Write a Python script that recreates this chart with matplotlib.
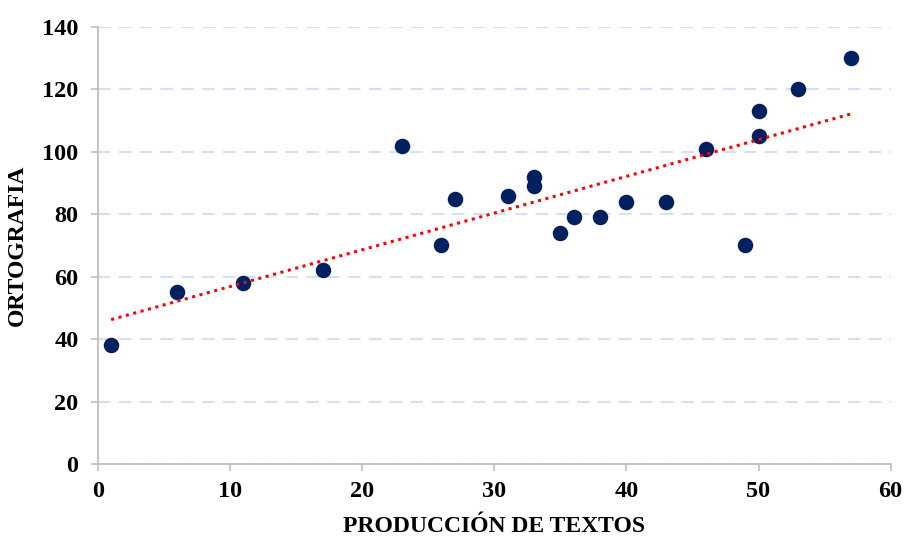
import numpy as np
import matplotlib
matplotlib.use("Agg")
import matplotlib.pyplot as plt

produccion = [1, 6, 11, 17, 23, 26, 27, 31, 33, 33, 35, 36, 38, 40, 43, 46, 49, 50, 50, 53, 57]
ortografia = [38, 55, 58, 62, 102, 70, 85, 86, 92, 89, 74, 79, 79, 84, 84, 101, 70, 105, 113, 120, 130]

x_ticks = [0, 10, 20, 30, 40, 50, 60]
y_ticks = [0, 20, 40, 60, 80, 100, 120, 140]

plt.rcParams['font.family'] = ['Liberation Serif', 'DejaVu Serif']
plt.rcParams['font.weight'] = 'bold'

fig = plt.figure(figsize=(9.07, 5.36), dpi=100)
ax = fig.add_axes([0.108, 0.134, 0.874, 0.816])

ax.scatter(produccion, ortografia, s=125, color='#002060', zorder=3, linewidths=0)

# linea de tendencia lineal
m, b = np.polyfit(produccion, ortografia, 1)
xs = np.array([min(produccion), max(produccion)])
ax.plot(xs, m * xs + b, color='#ff0000', linestyle=(0, (1, 1.5)), linewidth=2.2, zorder=4)

ax.set_xlim(0, 60)
ax.set_ylim(0, 140)
ax.set_xticks(x_ticks)
ax.set_yticks(y_ticks)
ax.tick_params(axis='both', labelsize=17.5, color='#bfbfbf', length=5, width=1.2, direction='out')
ax.tick_params(axis='y', pad=9)
ax.tick_params(axis='x', pad=7)
for lbl in ax.get_xticklabels() + ax.get_yticklabels():
    lbl.set_fontweight('bold')

ax.yaxis.grid(True, color='#d6e0f0', linestyle=(0, (6, 4)), linewidth=1.5)
ax.set_axisbelow(True)
for s in ['top', 'right']:
    ax.spines[s].set_visible(False)
for s in ['left', 'bottom']:
    ax.spines[s].set_color('#bfbfbf')
    ax.spines[s].set_linewidth(1.3)

ax.set_xlabel('PRODUCCIÓN DE TEXTOS', fontsize=17, fontweight='bold', labelpad=10)
ax.set_ylabel('ORTOGRAFIA', fontsize=17, fontweight='bold', labelpad=10)

fig.savefig('out.png', dpi=100)
